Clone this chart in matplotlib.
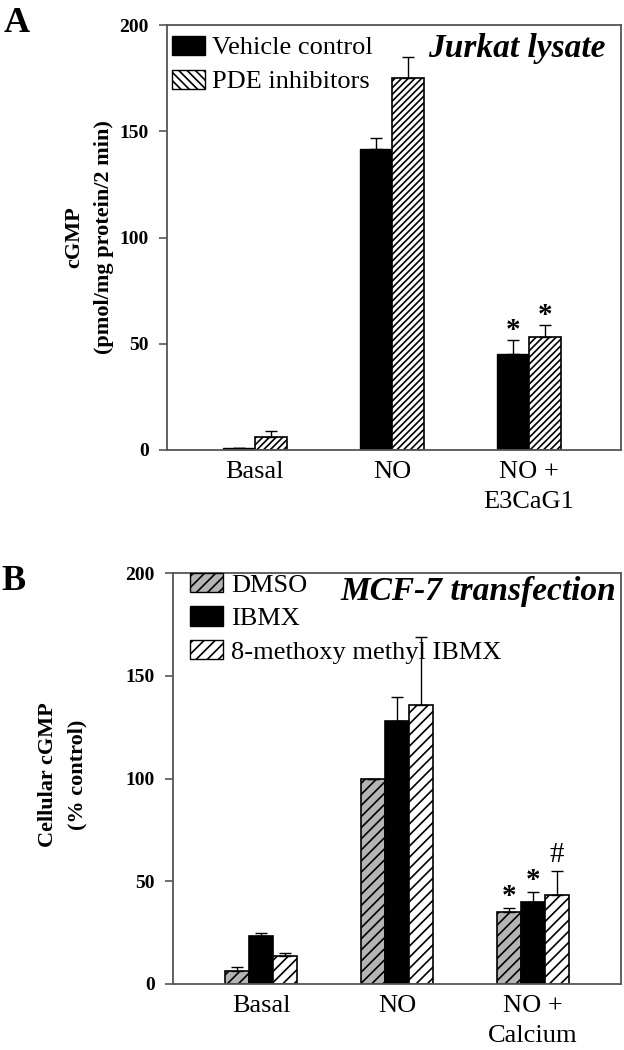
import numpy as np
import matplotlib
matplotlib.use("Agg")
import matplotlib.pyplot as plt
from matplotlib.patches import Patch

plt.rcParams['font.family'] = ['Liberation Serif', 'DejaVu Serif']
plt.rcParams['hatch.linewidth'] = 1.2

# panel A: Jurkat lysate
a_categories = ['Basal', 'NO', 'NO +\nE3CaG1']
a_vehicle = [1, 141.5, 45]
a_vehicle_err = [0, 5.5, 7]
a_pde = [6, 175, 53]
a_pde_err = [3, 10, 6]
a_marks = [(2, 'vehicle', '*'), (2, 'pde', '*')]

# panel B: MCF-7 transfection
b_categories = ['Basal', 'NO', 'NO +\nCalcium']
b_dmso = [6.3, 100, 35]
b_dmso_err = [2, 0, 2]
b_ibmx = [23.5, 128, 40]
b_ibmx_err = [1.5, 11.5, 5]
b_mm = [13.5, 136, 43.5]
b_mm_err = [1.5, 33, 11.5]
b_marks = [(2, 0, '*'), (2, 1, '*'), (2, 2, '#')]

yticks = [0, 50, 100, 150, 200]
spine_col = '#555555'


def style_axes(ax, cats, xlim):
    ax.set_xlim(*xlim)
    ax.set_ylim(0, 200)
    ax.set_yticks(yticks)
    ax.set_xticks(range(len(cats)))
    ax.set_xticklabels(cats, fontsize=19, linespacing=1.45)
    for lab in ax.get_yticklabels():
        lab.set_fontweight('bold')
    ax.tick_params(axis='y', labelsize=14, length=6, width=1.2, color=spine_col, pad=7)
    ax.tick_params(axis='x', length=0, pad=8)
    for s in ax.spines.values():
        s.set_color(spine_col)
        s.set_linewidth(1.3)


fig = plt.figure(figsize=(6.24, 10.5), dpi=100)

# ---------- A ----------
axA = fig.add_axes([167 / 624, 1 - 450 / 1050, 454 / 624, 425 / 1050])
x = np.arange(len(a_categories))
w = 0.235
ekw = dict(ecolor='black', elinewidth=1.0, capsize=4, capthick=1.0)
axA.bar(x - w / 2, a_vehicle, w, color='black', edgecolor='black', linewidth=1,
        yerr=[np.zeros(3), a_vehicle_err], error_kw=ekw, zorder=2)
axA.bar(x + w / 2, a_pde, w, color='white', edgecolor='black', linewidth=1.2,
        hatch='/////', yerr=[np.zeros(3), a_pde_err], error_kw=ekw, zorder=2)
for i, which, sym in a_marks:
    if which == 'vehicle':
        top = a_vehicle[i] + a_vehicle_err[i]
        xx = x[i] - w / 2
    else:
        top = a_pde[i] + a_pde_err[i]
        xx = x[i] + w / 2
    axA.text(xx, top - 2, sym, ha='center', va='bottom', fontsize=21, fontweight='bold')

style_axes(axA, a_categories, (-0.64, 2.67))
axA.set_ylabel('cGMP\n(pmol/mg protein/2 min)', fontsize=16, fontweight='bold', linespacing=1.7)
axA.yaxis.set_label_coords(-0.116, 0.5)

handlesA = [Patch(facecolor='black', edgecolor='black', label='Vehicle control'),
            Patch(facecolor='white', edgecolor='black', hatch='\\\\\\\\', label='PDE inhibitors')]
axA.legend(handles=handlesA, loc='upper left', bbox_to_anchor=(0.012, 0.975), frameon=False,
           fontsize=19, handlelength=1.25, handleheight=0.75, handletextpad=0.25,
           labelspacing=0.38, borderpad=0, borderaxespad=0)
axA.text(0.965, 0.945, 'Jurkat lysate', transform=axA.transAxes, ha='right', va='center',
         fontsize=24, fontweight='bold', style='italic')

# ---------- B ----------
axB = fig.add_axes([173 / 624, 1 - 984 / 1050, 448 / 624, 411 / 1050])
x = np.arange(len(b_categories))
w = 0.178
series = [(b_dmso, b_dmso_err, '#b4b4b4', '///'),
          (b_ibmx, b_ibmx_err, 'black', ''),
          (b_mm, b_mm_err, 'white', '///')]
for k, (vals, errs, col, hat) in enumerate(series):
    axB.bar(x + (k - 1) * w, vals, w, color=col, edgecolor='black', linewidth=1.2,
            hatch=hat, yerr=[np.zeros(3), errs], error_kw=ekw, zorder=2)
for i, k, sym in b_marks:
    vals, errs = series[k][0], series[k][1]
    if sym == '*':
        axB.text(x[i] + (k - 1) * w, vals[i] + errs[i] - 1, sym, ha='center', va='bottom',
                 fontsize=21, fontweight='bold')
    else:
        axB.text(x[i] + (k - 1) * w, vals[i] + errs[i] + 1.5, sym, ha='center', va='bottom',
                 fontsize=21)

style_axes(axB, b_categories, (-0.647, 2.647))
axB.set_ylabel('Cellular cGMP\n(% control)', fontsize=16, fontweight='bold', linespacing=1.6)
axB.yaxis.set_label_coords(-0.191, 0.51)

handlesB = [Patch(facecolor='#b4b4b4', edgecolor='black', hatch='///', label='DMSO'),
            Patch(facecolor='black', edgecolor='black', label='IBMX'),
            Patch(facecolor='white', edgecolor='black', hatch='///', label='8-methoxy methyl IBMX')]
axB.legend(handles=handlesB, loc='upper left', bbox_to_anchor=(0.038, 1.0), frameon=False,
           fontsize=19, handlelength=1.25, handleheight=0.75, handletextpad=0.3,
           labelspacing=0.36, borderpad=0, borderaxespad=0)
axB.text(0.989, 0.955, 'MCF-7 transfection', transform=axB.transAxes, ha='right', va='center',
         fontsize=24, fontweight='bold', style='italic')

fig.text(0.006, 0.993, 'A', fontsize=26, fontweight='bold', va='top', ha='left')
fig.text(0.003, 0.462, 'B', fontsize=26, fontweight='bold', va='top', ha='left')

fig.savefig('out.png', dpi=100)
